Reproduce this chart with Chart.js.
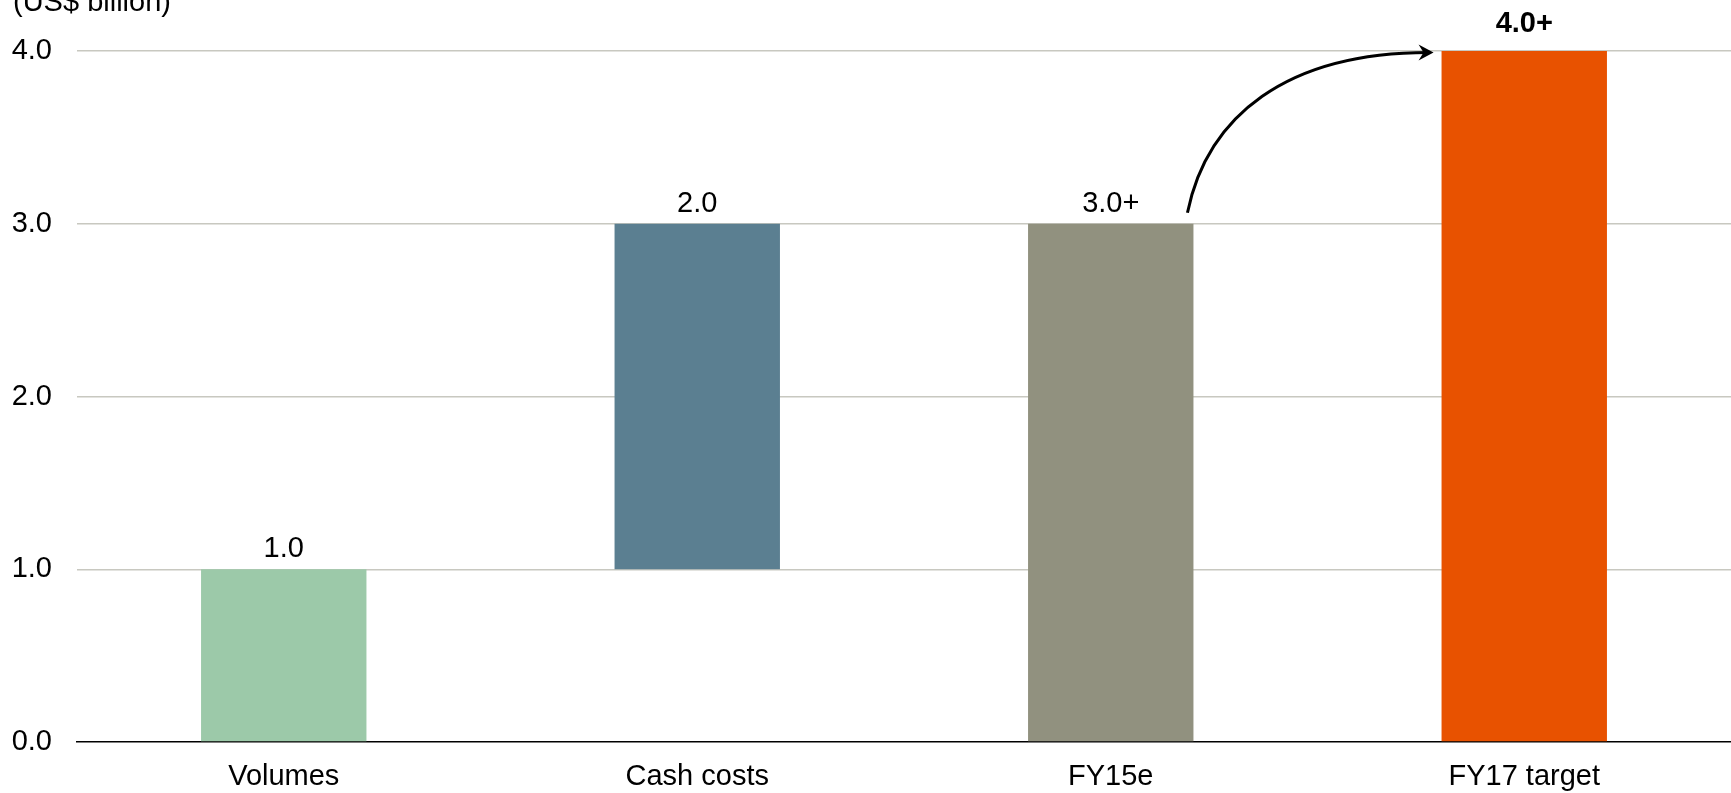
<!DOCTYPE html>
<html>
<head>
<meta charset="utf-8">
<script src="https://cdn.jsdelivr.net/npm/chart.js@4"></script>
<style>
  html, body { margin: 0; padding: 0; background: #fff; }
  #wrap { width: 1731px; height: 793px; }
</style>
</head>
<body>
<div id="wrap"><canvas id="barChart" width="1731" height="793"></canvas></div>
<script>
// data
var categories = ["Volumes", "Cash costs", "FY15e", "FY17 target"];
var barStart = [0, 1, 0, 0];
var barEnd = [1, 3, 3, 4];
var valueLabels = ["1.0", "2.0", "3.0+", "4.0+"];
var boldLabel = [false, false, false, true];
var barColors = ["#9cc9a9", "#5b7f91", "#91917f", "#e85200"];
var yTicks = [0, 1, 2, 3, 4];
var unitLabel = "(US$ billion)";

var fontFamily = "Arial, 'Liberation Sans', sans-serif";
Chart.defaults.font.family = fontFamily;
Chart.defaults.font.size = 29;
Chart.defaults.color = "#000";

// value labels, unit text and the arrow
var extrasPlugin = {
    id: 'extras',
    afterDatasetsDraw: function (chart) {
        var ctx = chart.ctx;
        var meta = chart.getDatasetMeta(0);
        ctx.save();
        ctx.textAlign = 'center';
        ctx.textBaseline = 'alphabetic';
        ctx.fillStyle = '#000';
        meta.data.forEach(function (bar, i) {
            ctx.font = (boldLabel[i] ? 'bold ' : '') + '29px ' + fontFamily;
            ctx.fillText(valueLabels[i], bar.x, bar.y - (boldLabel[i] ? 19 : 12));
        });

        // unit label, top left
        ctx.textAlign = 'left';
        ctx.font = '29px ' + fontFamily;
        ctx.fillText(unitLabel, 13, 11);

        // curved arrow FY15e -> FY17 target
        var from = meta.data[2];
        var to = meta.data[3];
        var sx = from.x + from.width / 2 - 6;
        var sy = from.y - 11;
        var tx = to.x - to.width / 2 - 8;
        var ty = to.y + 1.5;
        var dx = tx - sx, dy = sy - ty;
        ctx.strokeStyle = '#000';
        ctx.lineWidth = 3;
        ctx.beginPath();
        ctx.moveTo(sx, sy);
        ctx.bezierCurveTo(sx + 0.08 * dx, sy - 0.6 * dy, sx + 0.4 * dx, ty, tx - 5, ty);
        ctx.stroke();
        // arrow head
        ctx.fillStyle = '#000';
        ctx.beginPath();
        ctx.moveTo(tx, ty);
        ctx.lineTo(tx - 15, ty - 8);
        ctx.lineTo(tx - 10, ty);
        ctx.lineTo(tx - 15, ty + 8);
        ctx.closePath();
        ctx.fill();
        ctx.restore();
    }
};

var config = {
    type: 'bar',
    data: {
        labels: categories,
        datasets: [{
            data: categories.map(function (c, i) { return [barStart[i], barEnd[i]]; }),
            backgroundColor: barColors,
            borderWidth: 0,
            categoryPercentage: 1,
            barPercentage: 0.4
        }]
    },
    options: {
        responsive: false,
        animation: false,
        layout: { padding: { top: 51, right: 0, left: 0, bottom: 0 } },
        plugins: {
            legend: { display: false },
            tooltip: { enabled: false }
        },
        scales: {
            x: {
                grid: { display: false, drawTicks: false },
                border: { display: true, color: '#000', width: 1.5 },
                ticks: { padding: 18, color: '#000', font: { size: 29 } },
                afterFit: function (scale) { scale.height = 51; }
            },
            y: {
                min: 0,
                max: 4,
                afterBuildTicks: function (scale) {
                    scale.ticks = yTicks.map(function (v) { return { value: v }; });
                },
                grid: {
                    color: function (c) { return c.tick && c.tick.value === 0 ? 'rgba(0,0,0,0)' : '#c8c8c0'; },
                    lineWidth: 1.5,
                    drawTicks: false
                },
                border: { display: false },
                ticks: {
                    padding: 25,
                    color: '#000',
                    font: { size: 29 },
                    callback: function (value) { return value.toFixed(1); }
                },
                afterFit: function (scale) { scale.width = 77; }
            }
        }
    },
    plugins: [extrasPlugin]
};

var myChart = new Chart(document.getElementById('barChart'), config);
</script>
</body>
</html>
